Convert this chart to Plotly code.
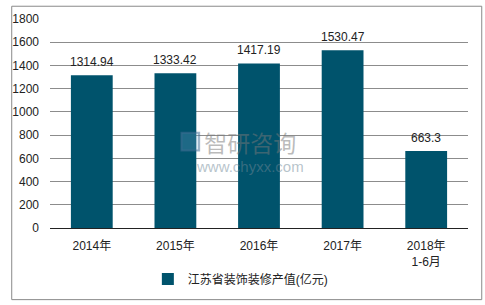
import plotly.graph_objects as go

categories = ["2014年", "2015年", "2016年", "2017年", "2018年<br>1-6月"]
values = [1314.94, 1333.42, 1417.19, 1530.47, 663.3]
value_labels = ["1314.94", "1333.42", "1417.19", "1530.47", "663.3"]
series_name = "江苏省装饰装修产值(亿元)"
y_ticks = [0, 200, 400, 600, 800, 1000, 1200, 1400, 1600, 1800]
watermark_name = "智研咨询"
watermark_url = "www.chyxx.com"

FONT = "Liberation Sans, Arial, Noto Sans CJK SC, sans-serif"
BAR = "#00536C"

L, R, T, B = 42, 17, 16, 76
W, H = 485, 305
pw, ph = W - L - R, H - T - B


def px(x):
    return (x - L) / pw


def py(y):
    return (H - B - y) / ph


fig = go.Figure()
fig.add_trace(go.Bar(
    x=categories, y=values, name=series_name,
    marker=dict(color=BAR, line=dict(width=0)),
    showlegend=True,
))

annotations = [
    dict(x=c, y=v, text=t, xref="x", yref="y", showarrow=False,
         yanchor="bottom", yshift=4,
         font=dict(family=FONT, size=12, color="#222222"))
    for c, v, t in zip(categories, values, value_labels)
]
annotations.append(
    dict(text=(f"<span style='font-size:23px;color:rgba(120,120,120,0.5)'>{watermark_name}</span>"
               f"<br><span style='font-size:15px;color:rgba(110,135,150,0.5)'>{watermark_url}</span>"),
         xref="paper", yref="paper", x=px(246), y=py(153), align="center",
         showarrow=False, font=dict(size=15))
)

fig.update_layout(
    width=W, height=H,
    margin=dict(l=L, r=R, t=T, b=B),
    paper_bgcolor="white", plot_bgcolor="white",
    font=dict(family=FONT, size=12, color="#222222"),
    bargap=0.5,
    xaxis=dict(showgrid=False, ticks="", showline=False, ticklabelstandoff=9,
               tickfont=dict(size=12, color="#222222")),
    yaxis=dict(range=[0, 1800], tickvals=y_ticks, showgrid=True,
               gridcolor="#8c8c8c", gridwidth=1, zeroline=True,
               zerolinecolor="#222222", zerolinewidth=1.3,
               ticks="", showline=False, ticklabelstandoff=10,
               tickfont=dict(size=12, color="#222222")),
    legend=dict(orientation="h", x=px(236), xanchor="center",
                y=py(281), yanchor="middle",
                font=dict(size=12, color="#222222")),
    shapes=[
        dict(type="rect", xref="paper", yref="paper",
             x0=px(3), x1=px(482), y0=py(302), y1=py(3),
             line=dict(color="#8a8a8a", width=1), layer="below"),
        dict(type="rect", xref="paper", yref="paper",
             x0=px(176), x1=px(194), y0=py(150), y1=py(132),
             line=dict(color="rgba(70,110,150,0.5)", width=2),
             fillcolor="rgba(120,170,210,0.25)", layer="above"),
    ],
    annotations=annotations,
)

fig.write_html("out.html")
